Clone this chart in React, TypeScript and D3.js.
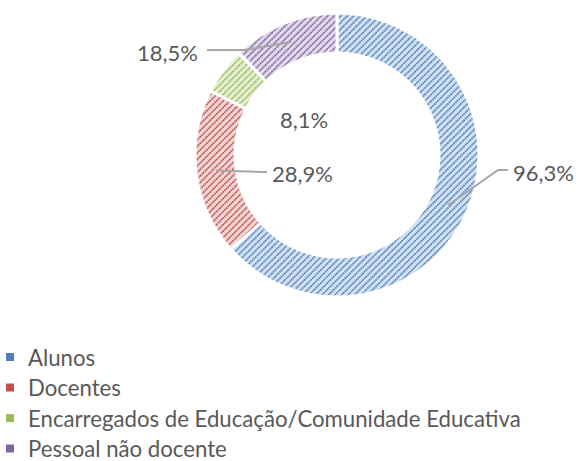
import React from "react";
import * as d3 from "d3";

const categories = ["Alunos", "Docentes", "Encarregados de Educação/Comunidade Educativa", "Pessoal não docente"];
const values = [96.3, 28.9, 8.1, 18.5];
const valueLabels = ["96,3%", "28,9%", "8,1%", "18,5%"];
const seriesColors = ["#4f81bd", "#c0504d", "#9bbb59", "#8064a2"];
const tintColors = ["#d5e2f2", "#f2d8d7", "#e6efd6", "#e1dbea"];

// label layout relative to chart centre (annotation placement)
const labelLayout = [
  { tx: 176, ty: 17, anchor: "start", elbow: [161, 15], leader: true },
  { tx: -65, ty: 18, anchor: "start", elbow: [-72, 17], leader: true },
  { tx: -57, ty: -36, anchor: "start", elbow: null, leader: false },
  { tx: -139, ty: -103, anchor: "end", elbow: [-92, -105], leader: true },
];

const W = 580;
const H = 461;
const CX = 337;
const CY = 155;
const R_OUT = 142;
const R_IN = 102;
const FONT = "Lato, 'Open Sans', sans-serif";
const TEXT = "#595959";

export default function App() {
  const pie = d3.pie<number>().sort(null).value((d) => d).startAngle(0).endAngle(2 * Math.PI);
  const arcs = pie(values);
  const arc = d3.arc<d3.PieArcDatum<number>>().innerRadius(R_IN).outerRadius(R_OUT);
  const midArc = d3.arc<d3.PieArcDatum<number>>().innerRadius((R_IN + R_OUT) / 2).outerRadius((R_IN + R_OUT) / 2);
  const legendY = d3.scaleLinear().domain([0, 1]).range([357, 387.5]);
  const line = d3.line();

  return (
    <svg width={W} height={H} style={{ position: "absolute", left: 0, top: 0, background: "#fff" }}>
      <defs>
        {seriesColors.map((c, i) => (
          <pattern
            key={i}
            id={`pat${i}`}
            patternUnits="userSpaceOnUse"
            width={4.6}
            height={4.6}
            patternTransform="rotate(45)"
          >
            <rect width={4.6} height={4.6} fill={tintColors[i]} />
            <line x1={0.9} y1={0} x2={0.9} y2={4.6} stroke={c} strokeWidth={1.8} strokeDasharray="1.7 0.6" />
          </pattern>
        ))}
      </defs>
      <g transform={`translate(${CX},${CY})`}>
        {arcs.map((a, i) => (
          <path key={i} d={arc(a) || ""} fill={`url(#pat${i})`} stroke="#ffffff" strokeWidth={3} />
        ))}
        {arcs.map((a, i) => {
          const L = labelLayout[i];
          if (!L.leader) return null;
          const c = midArc.centroid(a);
          const pts: [number, number][] = [c as [number, number]];
          if (L.elbow) pts.push(L.elbow as [number, number]);
          const endX = L.anchor === "start" ? L.tx - 5 : L.tx + 9;
          pts.push([endX, L.elbow ? L.elbow[1] : L.ty]);
          return <path key={`l${i}`} d={line(pts) || ""} fill="none" stroke="#a6a6a6" strokeWidth={2} />;
        })}
        {arcs.map((a, i) => {
          const L = labelLayout[i];
          return (
            <text
              key={`t${i}`}
              x={L.tx}
              y={L.ty}
              textAnchor={L.anchor as any}
              dominantBaseline="central"
              fontFamily={FONT}
              fontSize={22}
              fill={TEXT}
            >
              {valueLabels[i]}
            </text>
          );
        })}
      </g>
      <g>
        {categories.map((c, i) => (
          <g key={c}>
            <rect x={6} y={legendY(i) - 4} width={8} height={8} fill={seriesColors[i]} />
            <text x={28} y={legendY(i)} dominantBaseline="central" fontFamily={FONT} fontSize={22.2} fill={TEXT}>
              {c}
            </text>
          </g>
        ))}
      </g>
    </svg>
  );
}
